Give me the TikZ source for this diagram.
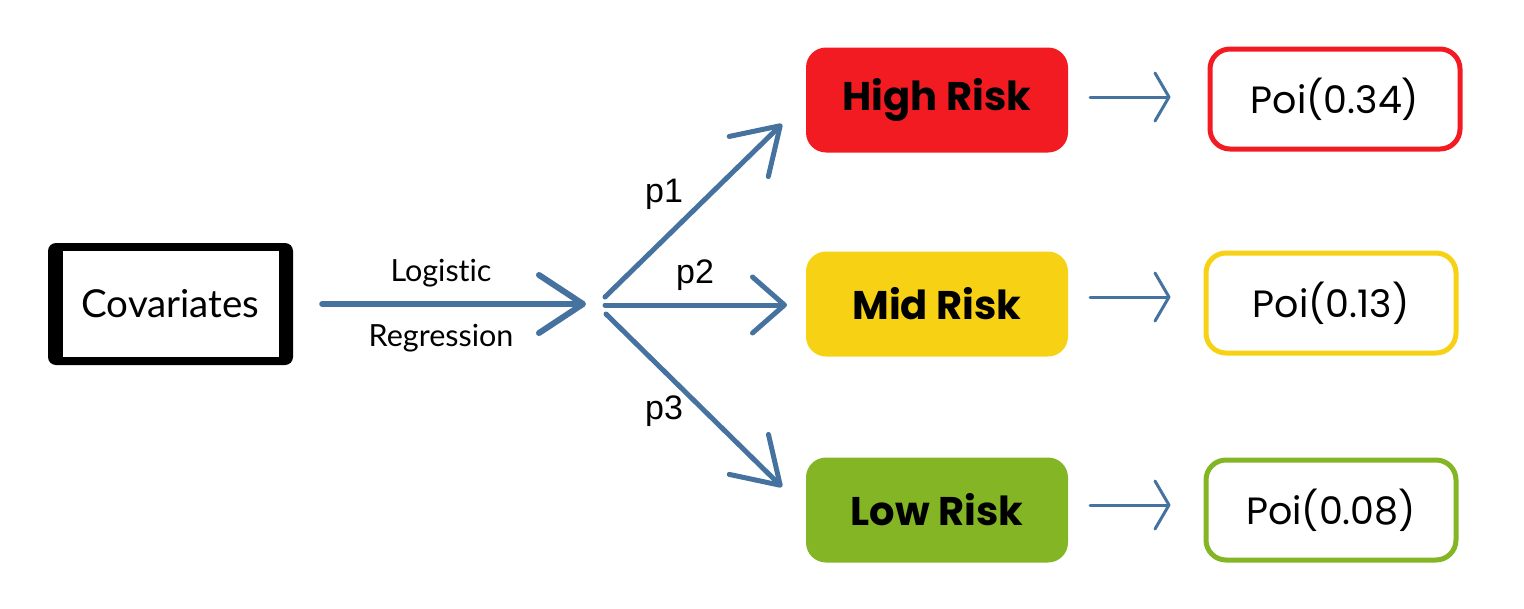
\documentclass[tikz,border=0pt]{standalone}
\usepackage{fontspec}
\setmainfont[Ligatures={NoCommon,NoDiscretionary}]{Lato}
\newfontfamily\labelfont{Liberation Sans}
\newfontfamily\riskfont{Poppins}
\usetikzlibrary{arrows.meta}
\definecolor{flow}{HTML}{45729F}
\definecolor{riskred}{HTML}{F31B22}
\definecolor{riskyellow}{HTML}{F7D214}
\definecolor{riskgreen}{HTML}{84B525}
\begin{document}
\begin{tikzpicture}[x=1pt,y=-1pt,
  riskbox/.style={rounded corners=20pt, minimum width=262pt, minimum height=105pt,
    inner sep=0pt, font=\riskfont\bfseries\fontsize{40}{44}\selectfont},
  poibox/.style={draw, line width=5pt, rounded corners=20pt, minimum width=250pt,
    minimum height=100pt, inner sep=0pt, fill=white,
    font=\riskfont\fontsize{38}{42}\selectfont},
  bigflow/.style={draw=flow, line width=6pt, line cap=round,
    -{Straight Barb[length=44pt, width=58pt, round]}},
  forkflow/.style={draw=flow, line width=5pt, line cap=round,
    -{Straight Barb[length=44pt, width=56pt, round]}},
  midflow/.style={draw=flow, line width=5pt, line cap=round,
    -{Straight Barb[length=32pt, width=56pt, round]}},
  smallflow/.style={draw=flow, line width=3pt, line cap=round,
    -{Straight Barb[length=14pt, width=48pt, round]}},
  plabel/.style={font=\labelfont\fontsize{34}{38}\selectfont},
  reglabel/.style={font=\fontsize{30.5}{34}\selectfont}
]
\useasboundingbox (0,0) rectangle (1524,608);

% covariates box: heavy black frame with a white face
\fill[black, rounded corners=8pt] (48,243) rectangle (293,365);
\fill[white] (63,251) rectangle (279,357);
\node[font=\fontsize{38.5}{42}\selectfont, minimum width=231pt, minimum height=122pt] (cov) at (170.5,304) {Covariates};

% risk classes
\node[riskbox, fill=riskred]    (hi)  at (937,100) {High Risk};
\node[riskbox, fill=riskyellow] (mid) at (937,304) {Mid Risk};
\node[riskbox, fill=riskgreen]  (lo)  at (937,510) {Low Risk};

% count distributions
\node[poibox, draw=riskred]    (phi)  at (1335,99)  {Poi(0.34)};
\node[poibox, draw=riskyellow] (pmid) at (1331,303) {Poi(0.13)};
\node[poibox, draw=riskgreen]  (plo)  at (1331,510) {Poi(0.08)};

% flow points
\coordinate (hub) at (586,304);
\coordinate (fork1) at (605,297);
\coordinate (fork2) at (605,305);
\coordinate (fork3) at (606,314);
\coordinate (tip1) at (782,124);
\coordinate (tip2) at (787,305);
\coordinate (tip3) at (782,487);

% logistic regression step
\draw[bigflow, shorten <=36pt] (cov.east) -- (hub);
\node[reglabel] (lg) at (441,273) {Logis\kern0pt tic};
\node[reglabel] (rg) at (441,338) {Regression};

% branching probabilities
\draw[forkflow] (fork1) -- (tip1);
\draw[midflow]  (fork2) -- (tip2);
\draw[forkflow] (fork3) -- (tip3);
\node[plabel] (p1) at (664,194) {p1};
\node[plabel] (p2) at (695,275) {p2};
\node[plabel] (p3) at (664,411) {p3};

% class to distribution
\draw[smallflow, shorten <=22pt, shorten >=37pt] (hi.east) ++(0,-3) coordinate (hs) -- (hs -| phi.west);
\draw[smallflow, shorten <=22pt, shorten >=33pt] (mid.east) ++(0,-7) coordinate (ms) -- (ms -| pmid.west);
\draw[smallflow, shorten <=22pt, shorten >=33pt] (lo.east) ++(0,-5) coordinate (ls) -- (ls -| plo.west);
\end{tikzpicture}
\end{document}
